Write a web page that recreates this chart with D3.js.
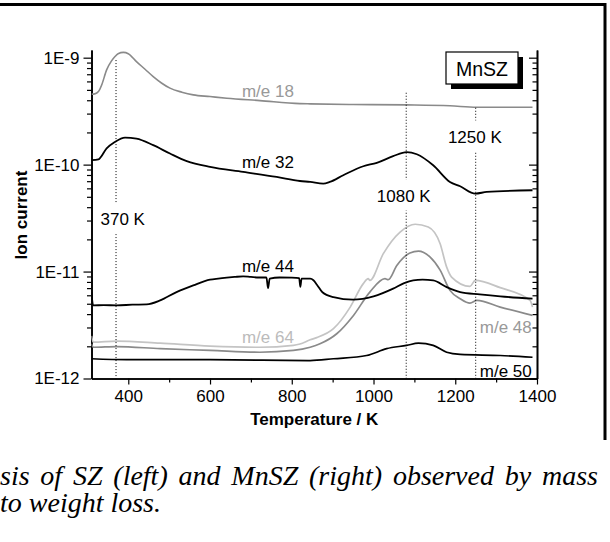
<!DOCTYPE html>
<html>
<head>
<meta charset="utf-8">
<script src="https://cdn.jsdelivr.net/npm/d3@7/dist/d3.min.js"></script>
<style>
    body { margin: 0; background: #fff; }
</style>
</head>
<body>
<svg id="chart" width="610" height="542"></svg>
<script>
// temperatures (K) and ion currents (A)
const t18 = [310, 318, 327, 335, 347, 359, 367, 375, 388, 400, 420, 441, 461, 482, 502, 531, 559, 600, 641, 722, 820, 845, 950, 1081, 1187, 1252, 1389];
const v18 = [4.56e-10, 4.59e-10, 4.82e-10, 5.57e-10, 7.69e-10, 9.33e-10, 1.02e-9, 1.09e-9, 1.12e-9, 1.09e-9, 9.19e-10, 7.80e-10, 6.65e-10, 5.77e-10, 5.19e-10, 4.76e-10, 4.49e-10, 4.33e-10, 4.18e-10, 3.97e-10, 3.72e-10, 3.70e-10, 3.65e-10, 3.62e-10, 3.55e-10, 3.44e-10, 3.44e-10];

const t32 = [310, 327, 347, 367, 392, 420, 461, 502, 543, 600, 681, 763, 820, 845, 877, 893, 926, 975, 1008, 1048, 1081, 1106, 1146, 1187, 1212, 1249, 1277, 1389];
const v32 = [1.10e-10, 1.12e-10, 1.42e-10, 1.63e-10, 1.79e-10, 1.75e-10, 1.52e-10, 1.27e-10, 1.08e-10, 9.52e-11, 8.55e-11, 7.67e-11, 7.03e-11, 6.89e-11, 6.65e-11, 6.89e-11, 7.96e-11, 9.66e-11, 1.04e-10, 1.20e-10, 1.31e-10, 1.25e-10, 9.86e-11, 6.89e-11, 6.28e-11, 5.36e-11, 5.55e-11, 5.76e-11];

const t44 = [310, 314, 340, 372, 410, 445, 478, 518, 559, 600, 620, 641, 660, 681, 700, 720, 738, 742, 746, 770, 800, 818, 821, 824, 845, 853, 862, 875, 902, 950, 1000, 1048, 1075, 1097, 1120, 1146, 1179, 1212, 1260, 1310, 1389];
const v44 = [6.4e-12, 4.83e-12, 4.85e-12, 4.83e-12, 4.9e-12, 4.93e-12, 5.37e-12, 6.43e-12, 7.43e-12, 8.4e-12, 8.6e-12, 8.77e-12, 8.9e-12, 9.02e-12, 8.9e-12, 8.8e-12, 8.8e-12, 7.0e-12, 8.6e-12, 8.8e-12, 8.77e-12, 8.7e-12, 7.2e-12, 8.6e-12, 8.58e-12, 8.3e-12, 7.5e-12, 6.4e-12, 5.77e-12, 5.46e-12, 5.86e-12, 6.92e-12, 7.8e-12, 8.27e-12, 8.4e-12, 8.27e-12, 7.16e-12, 6.43e-12, 6.12e-12, 5.86e-12, 5.58e-12];

const t64 = [310, 314, 372, 478, 600, 722, 804, 820, 845, 861, 902, 943, 975, 987, 991, 1024, 1065, 1102, 1134, 1163, 1179, 1191, 1236, 1249, 1310, 1383, 1389];
const v64 = [2.5e-12, 2.19e-12, 2.24e-12, 2.14e-12, 2.01e-12, 1.96e-12, 2.04e-12, 2.1e-12, 2.30e-12, 2.41e-12, 2.92e-12, 4.65e-12, 7.71e-12, 8.58e-12, 8.27e-12, 1.47e-11, 2.34e-11, 2.77e-11, 2.61e-11, 1.82e-11, 1.10e-11, 8.88e-12, 7.27e-12, 8.27e-12, 7.07e-12, 5.37e-12, 4.65e-12];

const t48 = [310, 314, 372, 478, 600, 722, 804, 845, 869, 910, 951, 991, 1028, 1036, 1057, 1089, 1110, 1138, 1163, 1187, 1212, 1236, 1253, 1310, 1389];
const v48 = [2.11e-12, 1.96e-12, 1.99e-12, 1.90e-12, 1.83e-12, 1.76e-12, 1.83e-12, 1.96e-12, 2.11e-12, 2.62e-12, 3.89e-12, 6.43e-12, 8.58e-12, 8.40e-12, 1.14e-11, 1.49e-11, 1.55e-11, 1.37e-11, 1.03e-11, 6.67e-12, 5.58e-12, 5.07e-12, 5.37e-12, 4.65e-12, 3.89e-12];

const t50 = [310, 396, 600, 845, 902, 983, 1032, 1081, 1110, 1146, 1179, 1212, 1310, 1389];
const v50 = [1.53e-12, 1.50e-12, 1.50e-12, 1.47e-12, 1.53e-12, 1.64e-12, 1.90e-12, 2.04e-12, 2.14e-12, 2.04e-12, 1.76e-12, 1.68e-12, 1.64e-12, 1.58e-12];

const markTemps = [370, 1080, 1250];
const markTops = [9.5e-10, 4.7e-10, 3.4e-10];

const xMajor = [400, 600, 800, 1000, 1200, 1400];
const xMinor = [500, 700, 900, 1100, 1300];
const yMajor = [1e-12, 1e-11, 1e-10, 1e-9];
const yMajorLabels = ['1E-12', '1E-11', '1E-10', '1E-9'];

const sans = '"Liberation Sans", Arial, sans-serif';

const margin = {left: 91.5, right: 73, top: 50, bottom: 163.5};
const width = 610 - margin.left - margin.right,
    height = 542 - margin.top - margin.bottom;

const svg = d3.select('#chart');

// page frame
svg.append('path')
    .attr('d', 'M0,4.5H605V440')
    .attr('fill', 'none')
    .attr('stroke', '#000')
    .attr('stroke-width', 3);

const g = svg.append('g')
    .attr('transform', 'translate(' + margin.left + ', ' + margin.top + ')')
    .attr('font-family', sans);

const xScale = d3.scaleLinear().domain([310, 1400]).range([0, width]);
const yScale = d3.scaleLog().domain([1e-12, 1.18e-9]).range([height, 0]);

const yMinor = [];
yMajor.forEach(d => {
    for (let k = 2; k <= 9; k++) {
        if (d * k <= 1.18e-9) yMinor.push(d * k);
    }
});

// axes
const axes = g.append('g').attr('class', 'axes');

axes.append('g')
    .attr('transform', 'translate(0, ' + height + ')')
    .call(d3.axisBottom(xScale).tickValues(xMajor).tickSize(6).tickSizeOuter(0).tickPadding(5).tickFormat(d3.format('d')));
axes.append('g')
    .attr('transform', 'translate(0, ' + height + ')')
    .call(d3.axisBottom(xScale).tickValues(xMinor).tickSize(4).tickSizeOuter(0).tickFormat(''));

axes.append('g')
    .call(d3.axisLeft(yScale).tickValues(yMajor).tickSize(8).tickSizeOuter(0).tickPadding(4)
        .tickFormat((d, i) => yMajorLabels[i]));
axes.append('g')
    .call(d3.axisLeft(yScale).tickValues(yMinor).tickSize(4.5).tickSizeOuter(0).tickFormat(''));

// right axis, ticks pointing inward
axes.append('g')
    .attr('transform', 'translate(' + width + ', 0)')
    .call(d3.axisLeft(yScale).tickValues(yMajor).tickSize(8).tickSizeOuter(0).tickFormat(''));
axes.append('g')
    .attr('transform', 'translate(' + width + ', 0)')
    .call(d3.axisLeft(yScale).tickValues(yMinor).tickSize(4.5).tickSizeOuter(0).tickFormat(''));

axes.selectAll('g').attr('font-family', sans).attr('font-size', '17px');
axes.selectAll('path.domain').attr('stroke', '#000').attr('stroke-width', 1.6);
axes.selectAll('.tick line').attr('stroke', '#000').attr('stroke-width', 1.2);
axes.selectAll('.tick text').attr('fill', '#000');

g.append('text')
    .text('Temperature / K')
    .attr('x', width / 2)
    .attr('y', height + 46.5)
    .attr('text-anchor', 'middle')
    .attr('font-size', '17px')
    .attr('font-weight', 'bold');

g.append('text')
    .text('Ion current')
    .attr('transform', 'rotate(-90)')
    .attr('x', -(215 - margin.top))
    .attr('y', -65)
    .attr('text-anchor', 'middle')
    .attr('font-size', '17px')
    .attr('font-weight', 'bold');

// curves
g.append('clipPath').attr('id', 'plot-clip')
    .append('rect').attr('width', width).attr('height', height);

const series = [
    {name: 'm/e 64', t: t64, v: v64, color: '#c4c4c4', w: 1.7},
    {name: 'm/e 48', t: t48, v: v48, color: '#8a8a8a', w: 1.7},
    {name: 'm/e 18', t: t18, v: v18, color: '#8a8a8a', w: 1.6},
    {name: 'm/e 50', t: t50, v: v50, color: '#000', w: 1.7},
    {name: 'm/e 44', t: t44, v: v44, color: '#000', w: 1.8},
    {name: 'm/e 32', t: t32, v: v32, color: '#000', w: 1.8}
];

const line = d3.line()
    .x(d => xScale(d[0]))
    .y(d => yScale(d[1]))
    .curve(d3.curveMonotoneX);

const curves = g.append('g').attr('clip-path', 'url(#plot-clip)');
series.forEach(s => {
    curves.append('path')
        .datum(s.t.map((t, i) => [t, s.v[i]]))
        .attr('d', line)
        .attr('fill', 'none')
        .attr('stroke', s.color)
        .attr('stroke-width', s.w)
        .attr('stroke-linejoin', 'round');
});

// dotted markers
markTemps.forEach((t, i) => {
    g.append('line')
        .attr('x1', xScale(t)).attr('x2', xScale(t))
        .attr('y1', yScale(markTops[i])).attr('y2', height)
        .attr('stroke', '#000')
        .attr('stroke-width', 1)
        .attr('stroke-dasharray', '1,2');
});

// annotations, anchored in data coordinates
const labels = g.append('g').attr('font-size', '17px');

function addLabel(text, t, v, color, knockout) {
    const txt = labels.append('text')
        .text(text)
        .attr('x', xScale(t))
        .attr('y', yScale(v))
        .attr('fill', color);
    if (knockout) {
        const b = txt.node().getBBox();
        labels.insert('rect', 'text')
            .attr('x', b.x).attr('y', b.y - 7)
            .attr('width', b.width).attr('height', b.height + 12)
            .attr('fill', '#fff');
    }
}

addLabel('m/e 18', 678, 4.28e-10, '#999');
addLabel('m/e 32', 678, 9.3e-11, '#000');
addLabel('370 K', 332, 2.72e-11, '#000', true);
addLabel('1080 K', 1008, 4.52e-11, '#000', true);
addLabel('1250 K', 1182, 1.61e-10, '#000', true);
addLabel('m/e 44', 678, 1.0e-11, '#000');
addLabel('m/e 64', 678, 2.15e-12, '#bbb');
addLabel('m/e 48', 1260, 2.64e-12, '#999');
addLabel('m/e 50', 1260, 1.03e-12, '#000');

// sample legend box with shadow
const box = g.append('g').attr('transform', 'translate(' + (446 - margin.left) + ', ' + (52 - margin.top) + ')');
box.append('rect').attr('x', 5).attr('y', 5).attr('width', 72).attr('height', 32).attr('fill', '#000');
box.append('rect').attr('width', 72).attr('height', 32).attr('fill', '#fff').attr('stroke', '#000').attr('stroke-width', 1.2);
box.append('text').text('MnSZ')
    .attr('x', 36).attr('y', 23.5)
    .attr('text-anchor', 'middle')
    .attr('font-size', '19.5px');

// caption fragment below the figure (first line is justified)
const caption = svg.append('g')
    .attr('font-family', '"Liberation Serif", "Times New Roman", serif')
    .attr('font-style', 'italic')
    .attr('font-size', '28px');
const cap1 = caption.append('text').attr('x', 0).attr('y', 485)
    .text('sis of SZ (left) and MnSZ (right) observed by mass');
caption.append('text').attr('x', 0).attr('y', 512).text('to weight loss.');

const natural = cap1.node().getComputedTextLength();
const gaps = cap1.text().split(' ').length - 1;
cap1.attr('word-spacing', Math.max(0, (598 - natural) / gaps));
</script>
</body>
</html>
